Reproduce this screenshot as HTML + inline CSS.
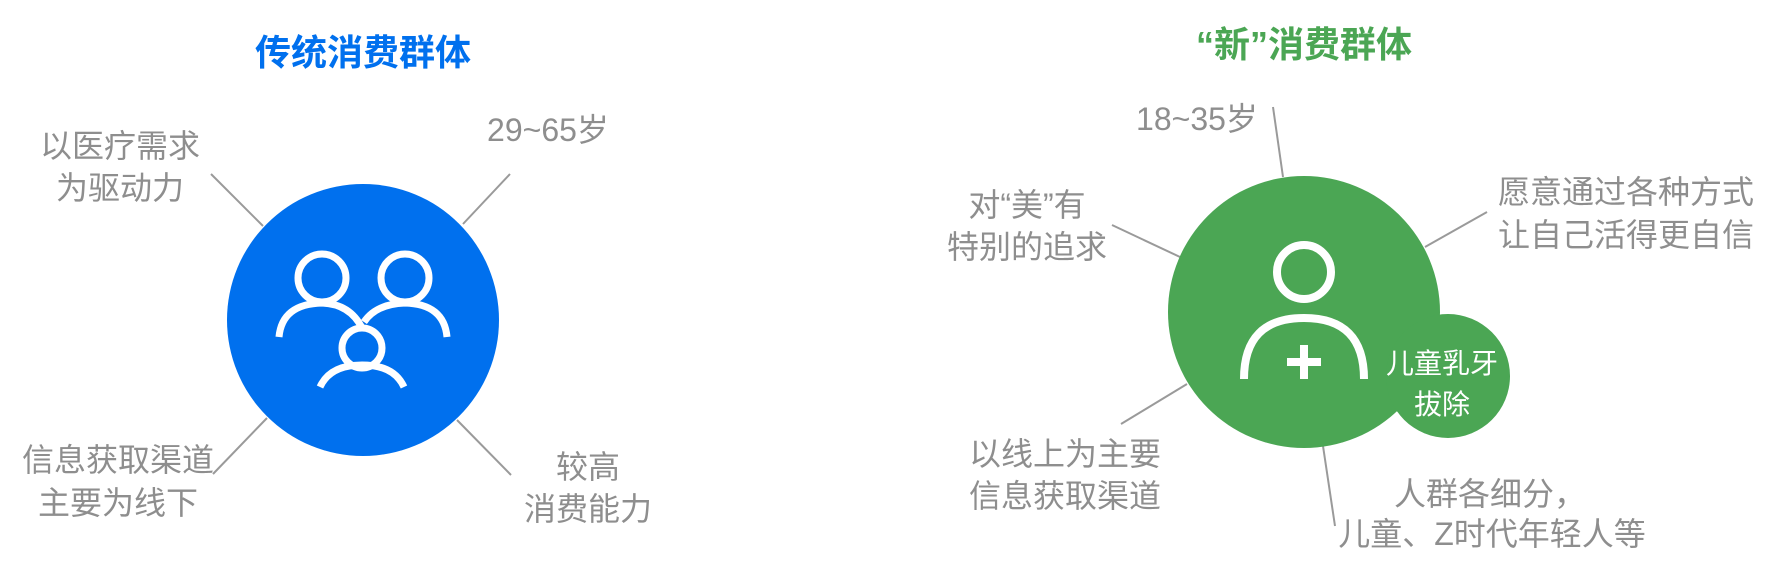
<!DOCTYPE html>
<html><head><meta charset="utf-8"><style>
html,body{margin:0;padding:0;background:#fff;}
svg{display:block;}
text{font-family:"Liberation Sans","Noto Sans CJK SC",sans-serif;}
.g{fill:#8e8e8e;font-size:32px;text-anchor:middle;}
</style></head><body>
<svg width="1772" height="582" viewBox="0 0 1772 582" xmlns="http://www.w3.org/2000/svg">
<!-- left -->
<text x="363" y="65" font-size="36" font-weight="bold" fill="#0070EE" text-anchor="middle">传统消费群体</text>
<g stroke="#9a9a9a" stroke-width="2">
<line x1="211" y1="174" x2="263" y2="226"/>
<line x1="510" y1="174" x2="463" y2="224"/>
<line x1="267" y1="418" x2="213" y2="474"/>
<line x1="457" y1="420" x2="511" y2="475"/>
</g>
<circle cx="363" cy="320" r="136" fill="#0070EE"/>
<g fill="none" stroke="#fff" stroke-width="7">
<circle cx="322" cy="278" r="24"/>
<circle cx="405" cy="278" r="24"/>
<circle cx="362" cy="348" r="20"/>
<path d="M279 337 Q282 304 322 303 Q350 304 362 328"/>
<path d="M364 322 Q376 304 405 303 Q444 304 447 337"/>
<path d="M320 387 Q330 365 362 365 Q394 365 404 387"/>
</g>
<text class="g" x="120" y="157">以医疗需求</text>
<text class="g" x="120" y="199">为驱动力</text>
<text class="g" x="548" y="141">29~65岁</text>
<text class="g" x="118" y="471">信息获取渠道</text>
<text class="g" x="118" y="514">主要为线下</text>
<text class="g" x="588" y="478">较高</text>
<text class="g" x="588" y="520">消费能力</text>
<!-- right -->
<text x="1304" y="57" font-size="36" font-weight="bold" fill="#4BA654" text-anchor="middle">“新”消费群体</text>
<g stroke="#9a9a9a" stroke-width="2">
<line x1="1273" y1="107" x2="1283" y2="177"/>
<line x1="1112" y1="225" x2="1180" y2="257"/>
<line x1="1487" y1="212" x2="1425" y2="247"/>
<line x1="1187" y1="384" x2="1121" y2="424"/>
<line x1="1323" y1="446" x2="1335" y2="526"/>
</g>
<circle cx="1304" cy="312" r="136" fill="#4BA654"/>
<circle cx="1448" cy="376" r="62" fill="#4BA654"/>
<g fill="none" stroke="#fff" stroke-width="8">
<circle cx="1304" cy="272" r="27"/>
<path d="M1244 379 Q1244 318 1304 318 Q1364 318 1364 379"/>
<line x1="1304" y1="345" x2="1304" y2="379"/>
<line x1="1287" y1="362" x2="1321" y2="362"/>
</g>
<text x="1442" y="373" font-size="28" fill="#fff" text-anchor="middle">儿童乳牙</text>
<text x="1442" y="414" font-size="28" fill="#fff" text-anchor="middle">拔除</text>
<text class="g" x="1197" y="130">18~35岁</text>
<text class="g" x="1027" y="216">对“美”有</text>
<text class="g" x="1027" y="258">特别的追求</text>
<text class="g" x="1626" y="203">愿意通过各种方式</text>
<text class="g" x="1626" y="246">让自己活得更自信</text>
<text class="g" x="1065" y="465">以线上为主要</text>
<text class="g" x="1065" y="507">信息获取渠道</text>
<text class="g" x="1490" y="505">人群各细分，</text>
<text class="g" x="1492" y="545">儿童、Z时代年轻人等</text>
</svg>
</body></html>
